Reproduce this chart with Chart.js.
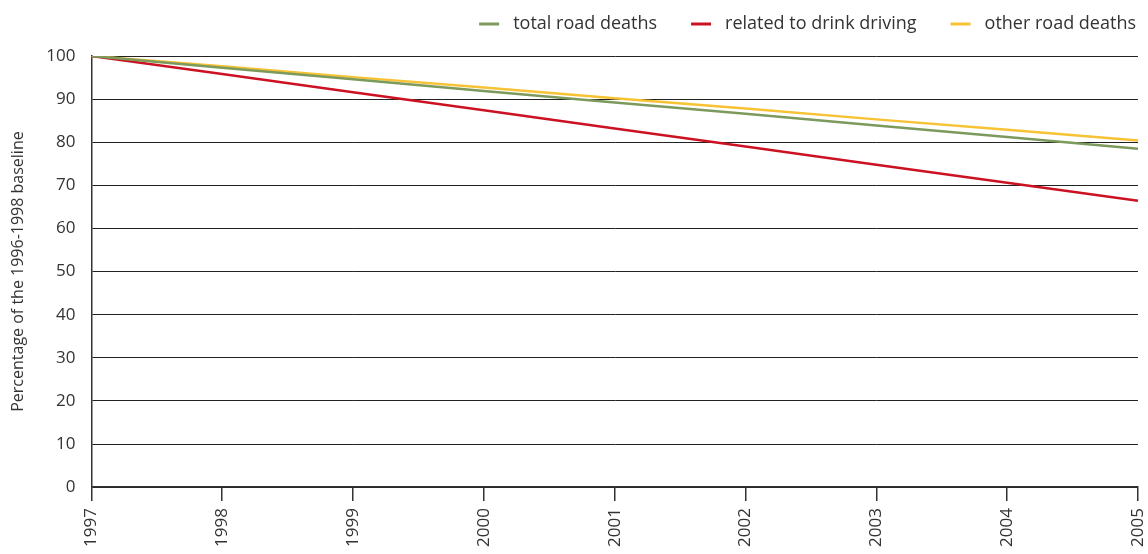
<!DOCTYPE html>
<html>
<head>
<meta charset="utf-8">
<script src="https://cdn.jsdelivr.net/npm/chart.js@4"></script>
<style>
  html, body { margin: 0; padding: 0; background: #fff; }
  #wrap { width: 1148px; height: 554px; position: relative; }
</style>
</head>
<body>
<div id="wrap"><canvas id="chart"></canvas></div>
<script>
// Road deaths, index relative to 1996-1998 baseline
const years = ['1997', '1998', '1999', '2000', '2001', '2002', '2003', '2004', '2005'];
const totalDeaths = [100, 97.3, 94.6, 91.9, 89.2, 86.6, 83.9, 81.2, 78.5];
const drinkDriving = [100, 95.8, 91.6, 87.4, 83.2, 79.0, 74.8, 70.6, 66.4];
const otherDeaths = [100, 97.6, 95.1, 92.7, 90.2, 87.8, 85.3, 82.9, 80.4];

const textColor = '#333333';
const fontFamily = '"Open Sans", "DejaVu Sans", sans-serif';

// Legend drawn by hand at the top right, items laid out right to left
const topLegend = {
    id: 'topLegend',
    afterDraw(chart) {
        const ctx = chart.ctx;
        const items = chart.data.datasets;
        ctx.save();
        ctx.font = '18px ' + fontFamily;
        ctx.textBaseline = 'middle';
        let x = 1136;
        const y = 24;
        for (let i = items.length - 1; i >= 0; i--) {
            const w = ctx.measureText(items[i].label).width;
            x -= w;
            ctx.fillStyle = textColor;
            ctx.fillText(items[i].label, x, y);
            ctx.strokeStyle = items[i].borderColor;
            ctx.lineWidth = 3;
            ctx.beginPath();
            ctx.moveTo(x - 34, y);
            ctx.lineTo(x - 14, y);
            ctx.stroke();
            x -= 34 + 34;
        }
        ctx.restore();
    }
};

const ctx = document.getElementById('chart').getContext('2d');

new Chart(ctx, {
    type: 'line',
    data: {
        labels: years,
        datasets: [
            {
                label: 'total road deaths',
                data: totalDeaths,
                borderColor: '#7b9a5c',
                backgroundColor: '#7b9a5c',
                borderWidth: 2.5,
                pointRadius: 0
            },
            {
                label: 'related to drink driving',
                data: drinkDriving,
                borderColor: '#cc1222',
                backgroundColor: '#cc1222',
                borderWidth: 2.5,
                pointRadius: 0
            },
            {
                label: 'other road deaths',
                data: otherDeaths,
                borderColor: '#f7c233',
                backgroundColor: '#f7c233',
                borderWidth: 2.5,
                pointRadius: 0
            }
        ]
    },
    options: {
        responsive: true,
        maintainAspectRatio: false,
        animation: false,
        layout: {
            padding: { top: 56, right: 10, left: 9, bottom: 0 }
        },
        plugins: {
            legend: { display: false },
            tooltip: { enabled: false }
        },
        scales: {
            x: {
                offset: false,
                // last rotated label may hang past the right edge, as in the original
                afterFit: (scale) => { scale.paddingRight = 0; },
                grid: {
                    drawOnChartArea: false,
                    drawTicks: true,
                    tickLength: 14,
                    color: '#333',
                    lineWidth: 1.5
                },
                border: { display: true, color: '#333', width: 1.5 },
                ticks: {
                    minRotation: 90,
                    maxRotation: 90,
                    padding: 7,
                    color: textColor,
                    font: { family: fontFamily, size: 17 }
                }
            },
            y: {
                min: 0,
                max: 100,
                grid: {
                    color: '#222',
                    lineWidth: 1,
                    drawTicks: false
                },
                border: { display: true, color: '#333', width: 1.5 },
                ticks: {
                    stepSize: 10,
                    padding: 16,
                    color: textColor,
                    font: { family: fontFamily, size: 17 }
                },
                title: {
                    display: true,
                    text: 'Percentage of the 1996-1998 baseline',
                    color: textColor,
                    padding: { top: 0, bottom: 2 },
                    font: { family: fontFamily, size: 16 }
                }
            }
        }
    },
    plugins: [topLegend]
});
</script>
</body>
</html>
